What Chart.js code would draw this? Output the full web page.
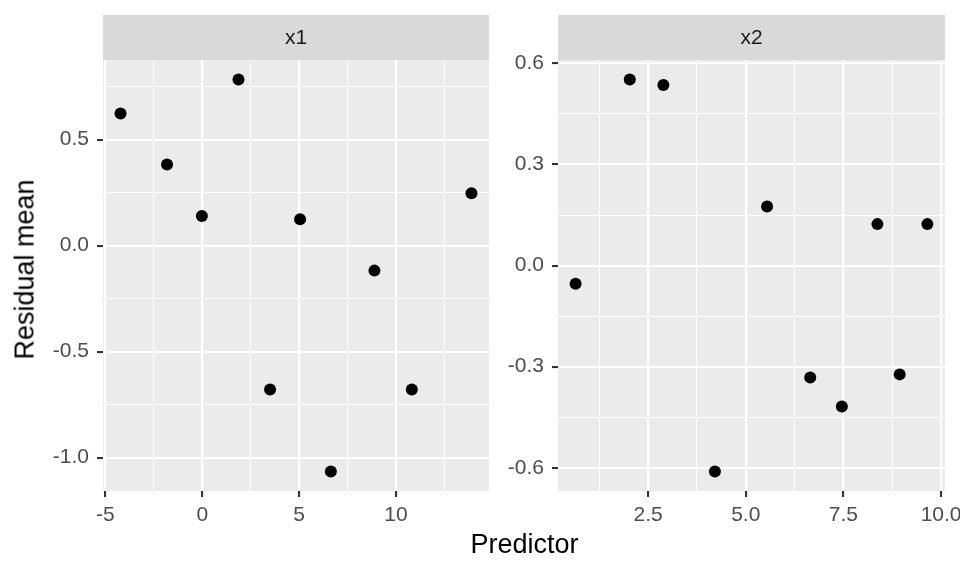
<!DOCTYPE html>
<html>
<head>
    <style>
        body { margin: 0; background: #fff; }
        #wrap { position: relative; width: 960px; height: 576px; font-family: "Liberation Sans", Arial, sans-serif; }
        canvas { position: absolute; top: 0; }
        .axis-title { position: absolute; font-size: 27px; line-height: 27px; color: #000; white-space: nowrap; }
    </style>
    <script src="https://cdn.jsdelivr.net/npm/chart.js"></script>
</head>
<body>
    <div id="wrap">
        <canvas id="panelX1" width="495" height="576" style="left:0"></canvas>
        <canvas id="panelX2" width="465" height="576" style="left:495px"></canvas>
        <div class="axis-title" id="yTitle">Residual mean</div>
        <div class="axis-title" id="xTitle">Predictor</div>
    </div>

    <script>
        // facet x1
        const x1Predictor = [-4.22, -1.82, -0.02, 1.87, 3.50, 5.05, 6.64, 8.89, 10.82, 13.90];
        const x1Residual  = [0.623, 0.383, 0.140, 0.783, -0.679, 0.124, -1.065, -0.118, -0.679, 0.247];
        const x1Breaks = [-5, 0, 5, 10];
        const x1Labels = ['-5', '0', '5', '10'];
        const x1Minor  = [-2.5, 2.5, 7.5, 12.5];
        const y1Breaks = [-1, -0.5, 0, 0.5];
        const y1Labels = ['-1.0', '-0.5', '0.0', '0.5'];
        const y1Minor  = [-0.75, -0.25, 0.25, 0.75];

        // facet x2
        const x2Predictor = [0.643, 2.03, 2.89, 4.21, 5.545, 6.65, 7.46, 8.37, 8.94, 9.65];
        const x2Residual  = [-0.054, 0.552, 0.536, -0.611, 0.175, -0.332, -0.418, 0.123, -0.323, 0.123];
        const x2Breaks = [2.5, 5, 7.5, 10];
        const x2Labels = ['2.5', '5.0', '7.5', '10.0'];
        const x2Minor  = [1.25, 3.75, 6.25, 8.75];
        const y2Breaks = [-0.6, -0.3, 0, 0.3, 0.6];
        const y2Labels = ['-0.6', '-0.3', '0.0', '0.3', '0.6'];
        const y2Minor  = [-0.45, -0.15, 0.15, 0.45];

        const FONT = '"Liberation Sans", Arial, sans-serif';

        // ggplot style 5% expansion of the data range
        function expanded(v) {
            const lo = Math.min(...v), hi = Math.max(...v), d = (hi - lo) * 0.05;
            return { min: lo - d, max: hi + d };
        }

        const panelBg = {
            id: 'panelBg',
            beforeDraw(chart) {
                const { ctx, chartArea: a, titleBlock: t } = chart;
                ctx.save();
                ctx.fillStyle = '#EBEBEB';
                ctx.fillRect(a.left, a.top, a.right - a.left, a.bottom - a.top);
                ctx.fillStyle = '#D9D9D9';
                ctx.fillRect(a.left, t.top, a.right - a.left, t.bottom - t.top);
                ctx.restore();
            }
        };

        function axis(breaks, labels, minor, limits, fitKey, fitSize, pad) {
            const isMajor = v => breaks.some(b => Math.abs(b - v) < 1e-9);
            return {
                type: 'linear',
                min: limits.min,
                max: limits.max,
                afterBuildTicks: s => {
                    s.ticks = breaks.concat(minor).sort((a, b) => a - b).map(v => ({ value: v }));
                },
                afterFit: s => {
                    s[fitKey] = fitSize;
                    // let labels hang over the edge like ggplot does, no extra room
                    s.paddingLeft = s.paddingRight = s.paddingTop = s.paddingBottom = 0;
                },
                border: { display: false },
                grid: {
                    color: '#FFFFFF',
                    lineWidth: c => (c.tick && isMajor(c.tick.value)) ? 2.1 : 1.05,
                    tickLength: 6,
                    tickWidth: 2.1,
                    tickColor: c => (c.tick && isMajor(c.tick.value)) ? '#333333' : 'rgba(0,0,0,0)'
                },
                ticks: {
                    autoSkip: false,
                    maxRotation: 0,
                    padding: pad,
                    color: '#4D4D4D',
                    font: { family: FONT, size: 21 },
                    callback: v => {
                        const i = breaks.findIndex(b => Math.abs(b - v) < 1e-9);
                        return i >= 0 ? labels[i] : '';
                    }
                }
            };
        }

        function makePanel(id, strip, xs, ys, xAxis, yAxis, rightPad) {
            new Chart(document.getElementById(id).getContext('2d'), {
                type: 'scatter',
                data: {
                    datasets: [{
                        data: xs.map((x, i) => ({ x: x, y: ys[i] })),
                        pointRadius: 6,
                        pointBackgroundColor: '#000000',
                        pointBorderWidth: 0
                    }]
                },
                options: {
                    responsive: false,
                    animation: false,
                    events: [],
                    layout: { padding: { left: 0, right: rightPad, top: 15, bottom: 45 } },
                    scales: { x: xAxis, y: yAxis },
                    plugins: {
                        legend: { display: false },
                        tooltip: { enabled: false },
                        title: {
                            display: true,
                            text: strip,
                            fullSize: false,
                            color: '#1A1A1A',
                            font: { family: FONT, size: 21, weight: 'normal', lineHeight: 1.2 },
                            padding: { top: 11, bottom: 8.8 }
                        }
                    }
                },
                plugins: [panelBg]
            });
        }

        makePanel('panelX1', 'x1', x1Predictor, x1Residual,
            axis(x1Breaks, x1Labels, x1Minor, expanded(x1Predictor), 'height', 40, 6),
            axis(y1Breaks, y1Labels, y1Minor, expanded(x1Residual), 'width', 103, 8), 5);

        makePanel('panelX2', 'x2', x2Predictor, x2Residual,
            axis(x2Breaks, x2Labels, x2Minor, expanded(x2Predictor), 'height', 40, 6),
            axis(y2Breaks, y2Labels, y2Minor, expanded(x2Residual), 'width', 63, 8), 15);

        // shared axis titles
        const xt = document.getElementById('xTitle');
        xt.style.left = (524.5 - xt.offsetWidth / 2) + 'px';
        xt.style.top = '531px';
        const yt = document.getElementById('yTitle');
        yt.style.left = (25 - yt.offsetWidth / 2) + 'px';
        yt.style.top = (269 - 13.5) + 'px';
        yt.style.transform = 'rotate(-90deg)';
    </script>
</body>
</html>
